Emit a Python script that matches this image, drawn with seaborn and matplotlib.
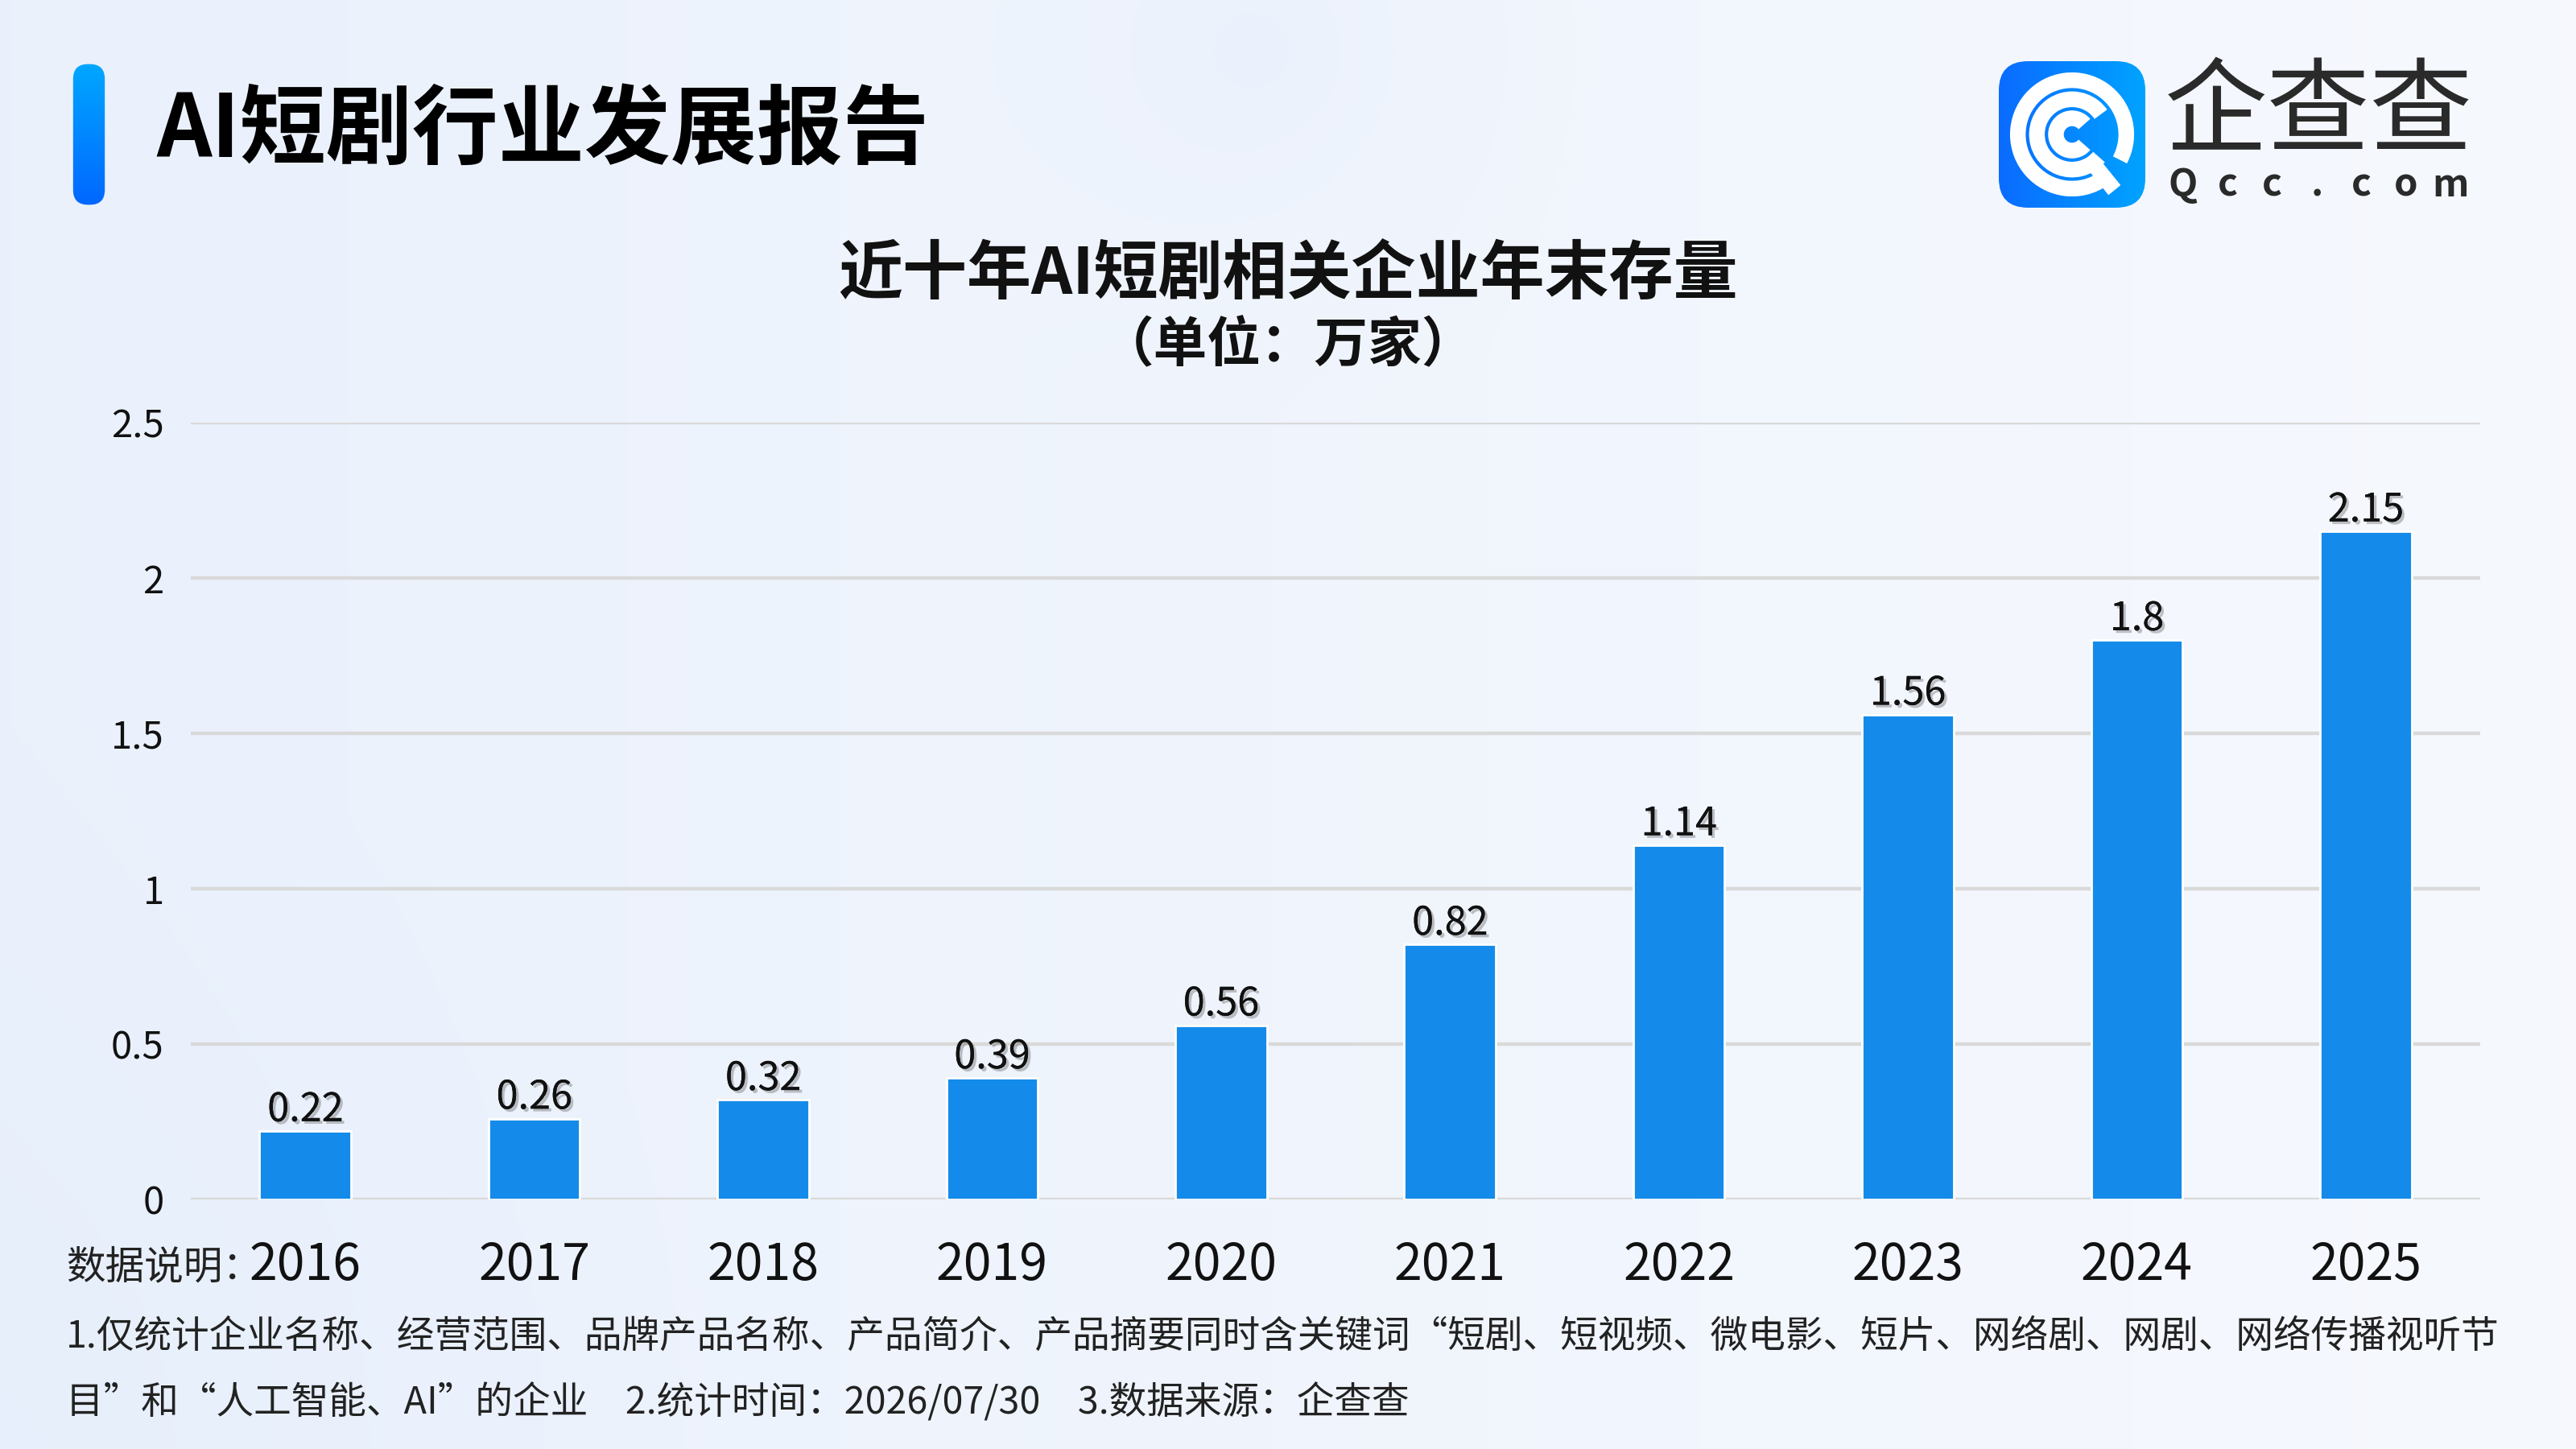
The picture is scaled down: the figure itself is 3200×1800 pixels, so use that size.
import numpy as np
import pandas as pd
import matplotlib
matplotlib.use("Agg")
import matplotlib.pyplot as plt
import matplotlib.patheffects as pe
from matplotlib.patches import FancyBboxPatch, Arc
import seaborn as sns

# ---------------- data ----------------
years = ["2016", "2017", "2018", "2019", "2020", "2021", "2022", "2023", "2024", "2025"]
values = [0.22, 0.26, 0.32, 0.39, 0.56, 0.82, 1.14, 1.56, 1.8, 2.15]
value_labels = ["0.22", "0.26", "0.32", "0.39", "0.56", "0.82", "1.14", "1.56", "1.8", "2.15"]
y_ticks = [0, 0.5, 1, 1.5, 2, 2.5]
y_tick_labels = ["0", "0.5", "1", "1.5", "2", "2.5"]

report_title = "AI短剧行业发展报告"
chart_title = "近十年AI短剧相关企业年末存量"
chart_unit = "（单位：万家）"
note_head = "数据说明："
note_line1 = "1.仅统计企业名称、经营范围、品牌产品名称、产品简介、产品摘要同时含关键词“短剧、短视频、微电影、短片、网络剧、网剧、网络传播视听节"
note_line2 = "目”和“人工智能、AI”的企业　2.统计时间：2026/07/30　3.数据来源：企查查"
brand_cn = "企查查"
brand_en = "Qcc.com"

df = pd.DataFrame({"year": years, "value": values})

# ---------------- style ----------------
sns.set_theme(style="white")
plt.rcParams["font.family"] = ["Noto Sans CJK SC", "DejaVu Sans"]
plt.rcParams["axes.unicode_minus"] = False

W, H = 3200, 1800
fig = plt.figure(figsize=(16, 9), dpi=200)

# ---------------- background ----------------
bg = fig.add_axes([0, 0, 1, 1], zorder=-10)
yy, xx = np.mgrid[0:H:4, 0:W:4]
c_left = np.array([0.918, 0.945, 0.988])
c_right = np.array([0.965, 0.975, 0.995])
t = (xx / W)[..., None]
img = c_left * (1 - t) + c_right * t
d = np.sqrt((xx - 1560) ** 2 + (yy - 60) ** 2)
blob = np.clip(1 - d / 480, 0, 1)[..., None] ** 1.5
img = img * (1 - 0.5 * blob) + np.array([0.905, 0.935, 0.985]) * 0.5 * blob
d2 = np.sqrt((xx - 0) ** 2 + (yy - 1800) ** 2)
blob2 = np.clip(1 - d2 / 900, 0, 1)[..., None]
img = img * (1 - 0.35 * blob2) + np.array([0.88, 0.925, 0.985]) * 0.35 * blob2
bg.imshow(np.clip(img, 0, 1), extent=[0, 1, 0, 1], aspect="auto", origin="upper")
bg.set_axis_off()

# ---------------- header ----------------
acc = fig.add_axes([90 / W, 1 - 258 / H, 41 / W, 182 / H], zorder=1)
acc.set_xlim(0, 1); acc.set_ylim(0, 1); acc.set_axis_off()
grad = np.linspace(0, 1, 256)[:, None]
cols = np.array([0.0, 0.66, 1.0])[None, None, :] * (1 - grad[..., None]) + np.array([0.0, 0.40, 1.0])[None, None, :] * grad[..., None]
im = acc.imshow(cols, extent=[0, 1, 0, 1], aspect="auto", origin="upper")
clip = FancyBboxPatch((0.02, 0.02), 0.96, 0.96, boxstyle="round,pad=0,rounding_size=0.45",
                      mutation_aspect=41 / 182, transform=acc.transAxes, facecolor="none", edgecolor="none")
acc.add_patch(clip)
im.set_clip_path(clip)

fig.text(194 / W, 1 - 164 / H, report_title, fontsize=38.5, fontweight="bold", color="#000000",
         ha="left", va="center")

# logo icon
ic = fig.add_axes([2483 / W, 1 - 258 / H, 182 / W, 182 / H], zorder=1)
ic.set_xlim(0, 1); ic.set_ylim(0, 1); ic.set_axis_off()
g2 = np.linspace(0, 1, 256)[None, :]
icol = np.array([0.04, 0.42, 1.0])[None, None, :] * (1 - g2[..., None]) + np.array([0.0, 0.64, 1.0])[None, None, :] * g2[..., None]
im2 = ic.imshow(icol, extent=[0, 1, 0, 1], aspect="auto", origin="upper")
clip2 = FancyBboxPatch((0.0, 0.0), 1.0, 1.0, boxstyle="round,pad=0,rounding_size=0.2",
                       transform=ic.transAxes, facecolor="none", edgecolor="none")
ic.add_patch(clip2)
im2.set_clip_path(clip2)
ic.add_patch(Arc((0.5, 0.5), 0.74, 0.74, theta1=-28, theta2=-55 + 360, lw=7, color="white"))
ic.add_patch(Arc((0.5, 0.5), 0.48, 0.48, theta1=35, theta2=-40 + 360, lw=7, color="white"))
ic.add_patch(Arc((0.5, 0.5), 0.22, 0.22, theta1=40, theta2=-40 + 360, lw=7, color="white"))
ic.plot([0.62, 0.79], [0.33, 0.12], color="white", lw=7, solid_capstyle="butt")

fig.text(2880 / W, 1 - 143 / H, brand_cn, fontsize=46, color="#2a2a2a", ha="center", va="center")
en_x = np.linspace(2712, 3044, len(brand_en))
for ch, xpix in zip(brand_en, en_x):
    fig.text(xpix / W, 1 - 230 / H, ch, fontsize=17, color="#2a2a2a", ha="center", va="center",
             fontweight="bold")

# chart titles
fig.text(0.5, 1 - 342 / H, chart_title, fontsize=28.8, fontweight="bold", color="#111111",
         ha="center", va="center")
fig.text(0.5, 1 - 430 / H, chart_unit, fontsize=24, fontweight="bold", color="#111111",
         ha="center", va="center")

# ---------------- chart ----------------
ax = fig.add_axes([237 / W, 1 - 1490 / H, (3081 - 237) / W, (1490 - 525) / H], zorder=2)
ax.set_facecolor("none")
sns.barplot(data=df, x="year", y="value", color="#148bea", saturation=1, width=0.4, ax=ax, zorder=3)
ax.set_xlim(-0.5, len(years) - 0.5)
ax.set_ylim(0, 2.5)
ax.set_yticks(y_ticks)
ax.set_yticklabels(y_tick_labels)
ax.yaxis.grid(True, color="#d9d9d9", linewidth=1.6)
ax.set_axisbelow(True)
for s in ax.spines.values():
    s.set_visible(False)
ax.set_xlabel("")
ax.set_ylabel("")
ax.tick_params(axis="y", length=0, labelsize=17, pad=12, labelcolor="#111111")
ax.tick_params(axis="x", length=0, labelsize=22.5, pad=18, labelcolor="#111111")

shadow = [pe.withSimplePatchShadow(offset=(1.2, -1.2), shadow_rgbFace="#555555", alpha=0.35), pe.Normal()]
for i, (v, lab) in enumerate(zip(values, value_labels)):
    ax.annotate(lab, (i, v), xytext=(0, 0.5), textcoords="offset points", ha="center", va="bottom",
                fontsize=17.5, color="#111111", path_effects=shadow, zorder=5)

# ---------------- footnotes ----------------
fig.text(82 / W, 1 - 1575 / H, note_head, fontsize=17.5, color="#222222", ha="left", va="center")
fig.text(82 / W, 1 - 1660 / H, note_line1, fontsize=16.8, color="#222222", ha="left", va="center")
fig.text(82 / W, 1 - 1743 / H, note_line2, fontsize=16.8, color="#222222", ha="left", va="center")

fig.savefig("out.png", dpi=200)
